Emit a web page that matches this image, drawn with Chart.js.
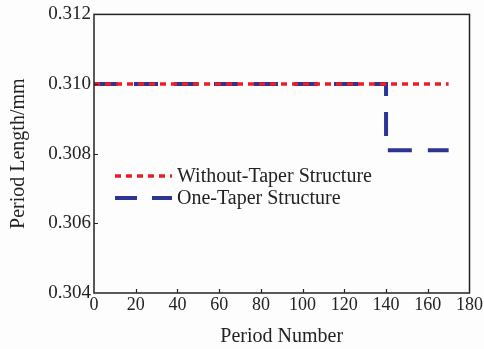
<!DOCTYPE html>
<html>
<head>
<meta charset="utf-8">
<script src="https://cdn.jsdelivr.net/npm/chart.js@4"></script>
<style>
  html, body { margin: 0; padding: 0; background: #fdfdfd; }
  #wrap { width: 484px; height: 349px; }
</style>
</head>
<body>
<div id="wrap"><canvas id="chartPeriod" width="484" height="349"></canvas></div>
<script>
// data
const withoutTaperX = [0, 170];
const withoutTaperY = [0.310, 0.310];
const oneTaperX     = [0, 140, 140, 170];
const oneTaperY     = [0.310, 0.310, 0.3081, 0.3081];
const xTicks = [0, 20, 40, 60, 80, 100, 120, 140, 160, 180];
const yTicks = [0.304, 0.306, 0.308, 0.310, 0.312];

const RED  = '#ee1d25';
const BLUE = '#2c3592';
const INK  = '#222';
const SERIF = "'Liberation Serif', 'Times New Roman', serif";

const toPts = (xs, ys) => xs.map((x, i) => ({ x, y: ys[i] }));

// box round the plot + inward tick marks
const frame = {
  id: 'frame',
  afterDraw(chart) {
    const { ctx, chartArea: a, scales } = chart;
    ctx.save();
    ctx.strokeStyle = INK;
    ctx.lineWidth = 1.5;
    ctx.strokeRect(a.left, a.top, a.right - a.left, a.bottom - a.top);
    ctx.lineWidth = 1.2;
    ctx.beginPath();
    xTicks.slice(1, -1).forEach(v => {
      const px = Math.round(scales.x.getPixelForValue(v)) + 0.5;
      ctx.moveTo(px, a.bottom); ctx.lineTo(px, a.bottom - 4);
    });
    yTicks.slice(1, -1).forEach(v => {
      const py = Math.round(scales.y.getPixelForValue(v)) + 0.5;
      ctx.moveTo(a.left, py); ctx.lineTo(a.left + 4, py);
    });
    ctx.stroke();
    ctx.restore();
  }
};

// legend sits inside the plot
const innerLegend = {
  id: 'innerLegend',
  afterDraw(chart) {
    const { ctx, chartArea: a } = chart;
    const rows = [
      { label: 'Without-Taper Structure', color: RED,  dash: [6, 5],   width: 3.5, y: 176 },
      { label: 'One-Taper Structure',     color: BLUE, dash: [22, 15], width: 4,   y: 198 },
    ];
    ctx.save();
    rows.forEach(r => {
      ctx.strokeStyle = r.color;
      ctx.lineWidth = r.width;
      ctx.setLineDash(r.dash);
      ctx.beginPath();
      ctx.moveTo(a.left + 21, r.y);
      ctx.lineTo(a.left + 78, r.y);
      ctx.stroke();
      ctx.setLineDash([]);
      ctx.fillStyle = INK;
      ctx.font = `20px ${SERIF}`;
      ctx.textBaseline = 'middle';
      ctx.fillText(r.label, a.left + 83, r.y + 1);
    });
    ctx.restore();
  }
};

new Chart(document.getElementById('chartPeriod'), {
  type: 'line',
  data: {
    datasets: [
      {
        label: 'Without-Taper Structure',
        data: toPts(withoutTaperX, withoutTaperY),
        borderColor: RED,
        borderWidth: 3.5,
        borderDash: [6, 5],
        pointRadius: 0,
        tension: 0,
      },
      {
        label: 'One-Taper Structure',
        data: toPts(oneTaperX, oneTaperY),
        borderColor: BLUE,
        borderWidth: 4,
        borderDash: [24, 16],
        pointRadius: 0,
        tension: 0,
      },
    ],
  },
  options: {
    responsive: false,
    animation: false,
    layout: { padding: { top: 14, right: 13, left: 0, bottom: 0 } },
    plugins: { legend: { display: false }, tooltip: { enabled: false } },
    scales: {
      x: {
        type: 'linear',
        min: 0, max: 180,
        afterBuildTicks: s => { s.ticks = xTicks.map(v => ({ value: v })); },
        afterFit: s => { s.height = 56; },
        grid: { display: false, drawTicks: false },
        border: { display: false },
        ticks: { color: INK, font: { family: SERIF, size: 18 }, padding: 1, maxRotation: 0 },
        title: { display: true, text: 'Period Number', color: INK, font: { family: SERIF, size: 20 }, padding: { top: 3, bottom: 0 } },
      },
      y: {
        type: 'linear',
        min: 0.304, max: 0.312,
        afterBuildTicks: s => { s.ticks = yTicks.map(v => ({ value: v })); },
        afterFit: s => { s.width = 94; },
        grid: { display: false, drawTicks: false },
        border: { display: false },
        ticks: { color: INK, font: { family: SERIF, size: 19 }, padding: 3, callback: v => v.toFixed(3) },
        title: { display: true, text: 'Period Length/mm', color: INK, font: { family: SERIF, size: 20 }, padding: { top: 7, bottom: 0 } },
      },
    },
  },
  plugins: [frame, innerLegend],
});
</script>
</body>
</html>
